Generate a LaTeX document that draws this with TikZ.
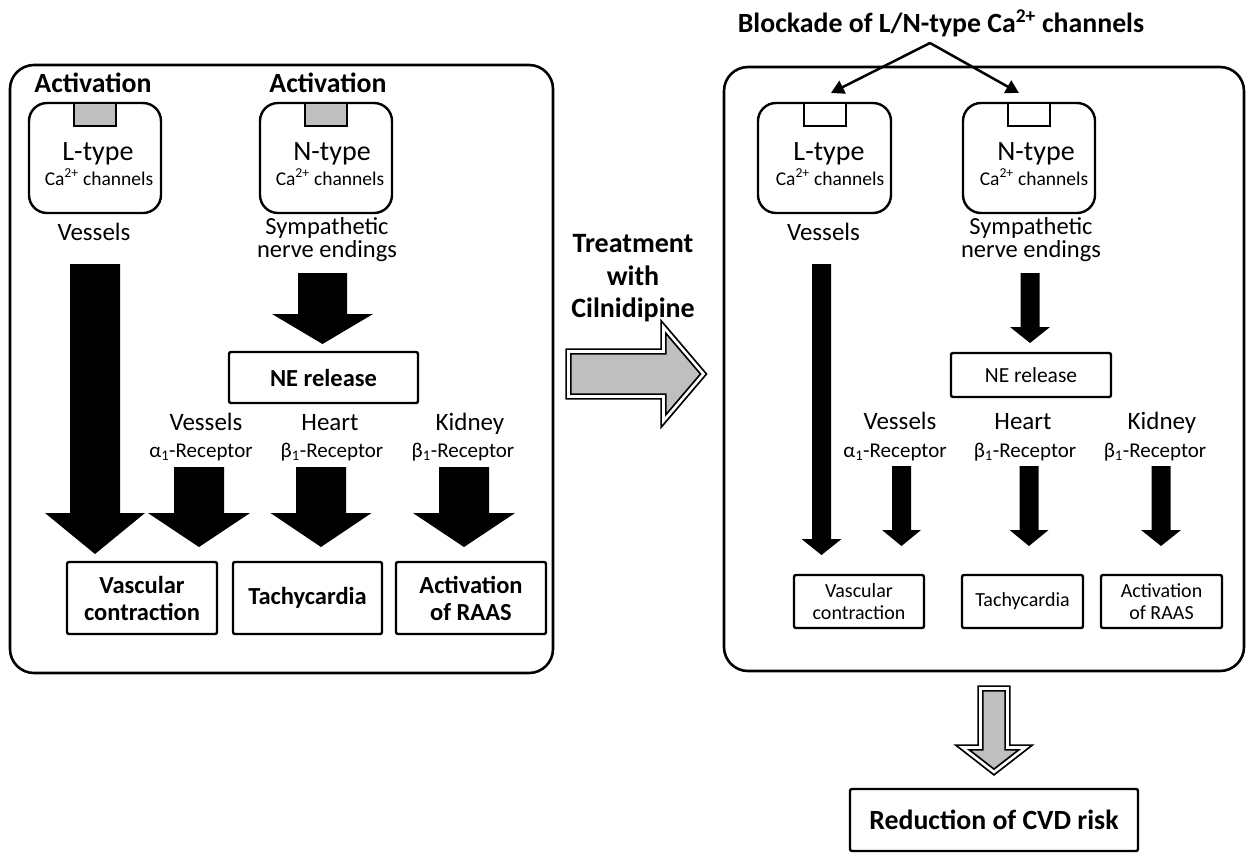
\documentclass[tikz,border=0pt]{standalone}
\usepackage{fontspec}
\setmainfont{Carlito}
\usetikzlibrary{arrows.meta}
\newcommand{\fs}[1]{\fontsize{#1}{#1}\selectfont}
\newcommand{\blockdn}[6]{\fill (#1-#5,#2) -- (#1+#5,#2) -- (#1+#5,#3) -- (#1+#6,#3) -- (#1,#4) -- (#1-#6,#3) -- (#1-#5,#3) -- cycle;}
\begin{document}
\begin{tikzpicture}[x=1pt,y=-1pt,
  panel/.style={draw, line width=2.6, rounded corners=24, inner sep=0},
  chan/.style={draw, line width=2.4, rounded corners=18, inner sep=0},
  tabg/.style={draw, line width=2, fill=black!25, inner sep=0, anchor=north, minimum width=42, minimum height=23},
  tabw/.style={draw, line width=2, fill=white, inner sep=0, anchor=north, minimum width=42, minimum height=23},
  box/.style={draw, line width=2.4, rounded corners=2, inner sep=0, align=center},
  lbl/.style={inner sep=0, anchor=base},
  dblarrow/.style={line width=1.8, double=white, double distance=2.6, fill=black!25, miter limit=10},
  thinarr/.style={line width=2.5, -{Triangle[length=13,width=14]}}
]
\useasboundingbox (0,0) rectangle (1247,855);

% ---------- left panel ----------
\node[panel, minimum width=543, minimum height=608] (lp) at (281.5,369) {};
\node[lbl, font=\bfseries\fs{27.8}] (act1) at (93,92) {Activation};
\node[lbl, font=\bfseries\fs{27.8}] (act2) at (328,92) {Activation};
\node[chan, minimum width=132, minimum height=110] (lc1) at (95,158) {};
\node[chan, minimum width=132, minimum height=110] (nc1) at (326,158) {};
\node[tabg] (lt1) at (lc1.north) {};
\node[tabg] (nt1) at (nc1.north) {};
\node[lbl, font=\fs{28}] (ltype1) at (98,160) {L-type};
\node[lbl, font=\fs{19.5}] (lca1) at (99,185) {Ca\textsuperscript{2+} channels};
\node[lbl, font=\fs{28}] (ntype1) at (332,160) {N-type};
\node[lbl, font=\fs{19.5}] (nca1) at (330,185) {Ca\textsuperscript{2+} channels};
\node[lbl, font=\fs{25}] (ves1) at (94,240) {Vessels};
\node[lbl, font=\fs{24.5}] (sym1) at (327,234) {Sympathetic};
\node[lbl, font=\fs{24.5}] (ner1) at (327,257) {nerve endings};

\blockdn{95}{264}{513}{554}{25}{50}
\blockdn{322.5}{273}{314}{344}{24.5}{50.5}

\node[box, minimum width=189, minimum height=51, font=\bfseries\fs{24.5}] (ne1) at (323.5,377.5) {NE release};

\node[lbl, font=\fs{25}] (vv1) at (206,430) {Vessels};
\node[lbl, font=\fs{21}] (ar1) at (201,457) {α\textsubscript{1}-Receptor};
\node[lbl, font=\fs{25}] (hh1) at (330,430) {Heart};
\node[lbl, font=\fs{21}] (br1) at (332,457) {β\textsubscript{1}-Receptor};
\node[lbl, font=\fs{25}] (kk1) at (470,430) {Kidney};
\node[lbl, font=\fs{21}] (kr1) at (463,457) {β\textsubscript{1}-Receptor};

\blockdn{199}{467}{513}{547}{25}{51}
\blockdn{321}{467}{513}{547}{25}{50.5}
\blockdn{464}{467}{513}{547}{25}{51}

\node[box, minimum width=150, minimum height=72, font=\bfseries\fontsize{24.5}{27}\selectfont] (vc1) at (142,598) {Vascular\\contraction};
\node[box, minimum width=149, minimum height=72, font=\bfseries\fs{24.5}] (tc1) at (307.5,598) {Tachycardia};
\node[box, minimum width=150, minimum height=72, font=\bfseries\fontsize{24.5}{27}\selectfont] (ra1) at (471,598) {Activation\\of RAAS};

% ---------- treatment ----------
\node[lbl, font=\bfseries\fs{28}] (tr1) at (633,252) {Treatment};
\node[lbl, font=\bfseries\fs{28}] (tr2) at (633,285) {with};
\node[lbl, font=\bfseries\fs{28}] (tr3) at (633,317) {Cilnidipine};
\draw[dblarrow] (568.5,351.5) -- (663.5,351.5) -- (663.5,327) -- (703.5,374) -- (663.5,421) -- (663.5,396.5) -- (568.5,396.5) -- cycle;

% ---------- right panel ----------
\node[panel, minimum width=520, minimum height=604] (rp) at (984,369) {};
\node[lbl, font=\bfseries\fs{27.8}] (title) at (941,32) {Blockade of L/N-type Ca\textsuperscript{2+} channels};
\coordinate (apex) at (930,43);
\coordinate (tipL) at (831,93);
\coordinate (tipN) at (1019,93);
\draw[thinarr] (apex) -- (tipL);
\draw[thinarr] (apex) -- (tipN);

\node[chan, minimum width=133, minimum height=110] (lc2) at (824.5,158) {};
\node[chan, minimum width=132, minimum height=110] (nc2) at (1029,158) {};
\node[tabw] (lt2) at (lc2.north) {};
\node[tabw] (nt2) at (nc2.north) {};
\node[lbl, font=\fs{28}] (ltype2) at (829,160) {L-type};
\node[lbl, font=\fs{19.5}] (lca2) at (830,185) {Ca\textsuperscript{2+} channels};
\node[lbl, font=\fs{28}] (ntype2) at (1036,160) {N-type};
\node[lbl, font=\fs{19.5}] (nca2) at (1034,185) {Ca\textsuperscript{2+} channels};
\node[lbl, font=\fs{25}] (ves2) at (823.5,240) {Vessels};
\node[lbl, font=\fs{24.5}] (sym2) at (1031,234) {Sympathetic};
\node[lbl, font=\fs{24.5}] (ner2) at (1031,257) {nerve endings};

\blockdn{821.5}{264}{539}{555}{9.5}{20}
\blockdn{1030}{273}{327}{343}{9.5}{20}

\node[box, minimum width=160, minimum height=44, font=\fs{21.5}] (ne2) at (1031,375) {NE release};

\node[lbl, font=\fs{25}] (vv2) at (900,429) {Vessels};
\node[lbl, font=\fs{21}] (ar2) at (895,457) {α\textsubscript{1}-Receptor};
\node[lbl, font=\fs{25}] (hh2) at (1023,429) {Heart};
\node[lbl, font=\fs{21}] (br2) at (1025,457) {β\textsubscript{1}-Receptor};
\node[lbl, font=\fs{25}] (kk2) at (1162,429) {Kidney};
\node[lbl, font=\fs{21}] (kr2) at (1155,457) {β\textsubscript{1}-Receptor};

\blockdn{901.5}{466}{530}{546}{9.5}{19.5}
\blockdn{1029}{466}{530}{546}{9.5}{19.5}
\blockdn{1161}{466}{530}{546}{9.5}{20}

\node[box, minimum width=130, minimum height=53, font=\fontsize{20}{22}\selectfont] (vc2) at (859,601.5) {Vascular\\contraction};
\node[box, minimum width=121, minimum height=53, font=\fs{20}] (tc2) at (1022.5,601.5) {Tachycardia};
\node[box, minimum width=121, minimum height=53, font=\fontsize{20}{22}\selectfont] (ra2) at (1161.5,601.5) {Activation\\of RAAS};

% ---------- result ----------
\draw[dblarrow] (980.5,688.5) -- (1007.5,688.5) -- (1007.5,747.5) -- (1025.5,747.5) -- (994,772) -- (962.5,747.5) -- (980.5,747.5) -- cycle;
\node[box, minimum width=288, minimum height=62, font=\bfseries\fs{27.8}] (cvd) at (994,820) {Reduction of CVD risk};
\end{tikzpicture}
\end{document}
